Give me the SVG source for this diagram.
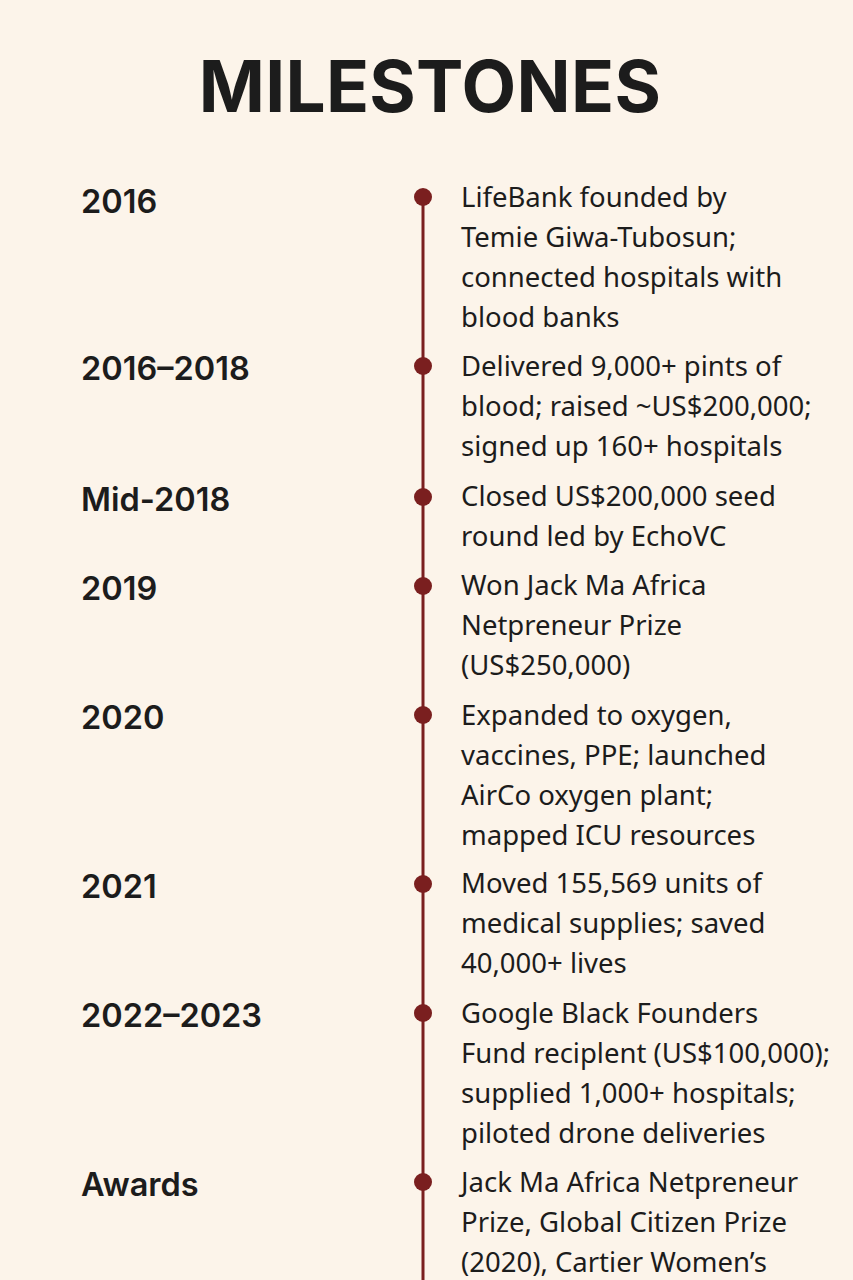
<svg xmlns="http://www.w3.org/2000/svg" width="853" height="1280" viewBox="0 0 853 1280">
<style>
.bg{fill:#fcf4ea}
.title{font-family:Inter,"Liberation Sans",sans-serif;font-weight:700;font-size:71px;fill:#1c1c1c;letter-spacing:0.3px}
.year{font-family:Inter,"Liberation Sans",sans-serif;font-weight:600;font-size:32.5px;fill:#1c1c1c}
.desc{font-family:"Noto Sans","Liberation Sans",sans-serif;font-size:27.5px;fill:#1c1c1c}
.dot{fill:#7a1f1f}
.line{stroke:#7a1f1f;stroke-width:3;fill:none}
</style>
<rect class="bg" x="0" y="0" width="853" height="1280"/>
<text class="title" x="430" y="112" text-anchor="middle">MILESTONES</text>
<g id="connectors">
<line class="line" x1="423" y1="197" x2="423" y2="1280"/>
</g>
<g id="m2016">
<circle class="dot" cx="423" cy="197" r="9"/>
<text class="year" x="81" y="213">2016</text>
<text class="desc" x="461" y="207">LifeBank founded by</text>
<text class="desc" x="461" y="247">Temie Giwa-Tubosun;</text>
<text class="desc" x="461" y="287">connected hospitals with</text>
<text class="desc" x="461" y="327">blood banks</text>
</g>
<g id="m2016-2018">
<circle class="dot" cx="423" cy="366" r="9"/>
<text class="year" x="81" y="380">2016–2018</text>
<text class="desc" x="461" y="376">Delivered 9,000+ pints of</text>
<text class="desc" x="461" y="416">blood; raised ~US$200,000;</text>
<text class="desc" x="461" y="456">signed up 160+ hospitals</text>
</g>
<g id="mMid2018">
<circle class="dot" cx="423" cy="497" r="9"/>
<text class="year" x="81" y="511">Mid-2018</text>
<text class="desc" x="461" y="506">Closed US$200,000 seed</text>
<text class="desc" x="461" y="546">round led by EchoVC</text>
</g>
<g id="m2019">
<circle class="dot" cx="423" cy="586" r="9"/>
<text class="year" x="81" y="600">2019</text>
<text class="desc" x="461" y="595">Won Jack Ma Africa</text>
<text class="desc" x="461" y="635">Netpreneur Prize</text>
<text class="desc" x="461" y="675">(US$250,000)</text>
</g>
<g id="m2020">
<circle class="dot" cx="423" cy="715" r="9"/>
<text class="year" x="81" y="729">2020</text>
<text class="desc" x="461" y="725">Expanded to oxygen,</text>
<text class="desc" x="461" y="765">vaccines, PPE; launched</text>
<text class="desc" x="461" y="805">AirCo oxygen plant;</text>
<text class="desc" x="461" y="845">mapped ICU resources</text>
</g>
<g id="m2021">
<circle class="dot" cx="423" cy="884" r="9"/>
<text class="year" x="81" y="898">2021</text>
<text class="desc" x="461" y="893">Moved 155,569 units of</text>
<text class="desc" x="461" y="933">medical supplies; saved</text>
<text class="desc" x="461" y="973">40,000+ lives</text>
</g>
<g id="m2022-2023">
<circle class="dot" cx="423" cy="1013" r="9"/>
<text class="year" x="81" y="1027">2022–2023</text>
<text class="desc" x="461" y="1023">Google Black Founders</text>
<text class="desc" x="461" y="1063">Fund reciplent (US$100,000);</text>
<text class="desc" x="461" y="1103">supplied 1,000+ hospitals;</text>
<text class="desc" x="461" y="1143">piloted drone deliveries</text>
</g>
<g id="mAwards">
<circle class="dot" cx="423" cy="1182" r="9"/>
<text class="year" x="81" y="1196">Awards</text>
<text class="desc" x="461" y="1192">Jack Ma Africa Netpreneur</text>
<text class="desc" x="461" y="1232">Prize, Global Citizen Prize</text>
<text class="desc" x="461" y="1272">(2020), Cartier Women’s</text>
</g>
</svg>
